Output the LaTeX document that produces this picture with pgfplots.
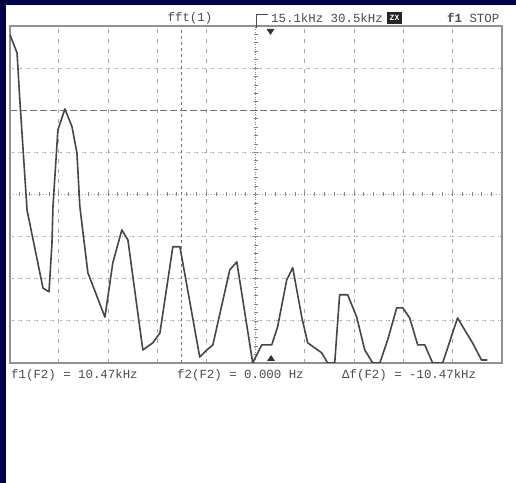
\documentclass[border=0pt]{standalone}
\usepackage{pgfplots}
\pgfplotsset{compat=1.18}
\usepackage{fontspec}
\setmainfont{Liberation Mono}
\definecolor{navy}{RGB}{0,0,68}
\definecolor{trace}{RGB}{70,70,70}
\definecolor{gridc}{RGB}{165,165,165}
\definecolor{framec}{RGB}{145,145,145}
\definecolor{txt}{RGB}{75,75,75}
\newcommand\scr{\fontsize{12.4bp}{14bp}\selectfont}
\begin{document}
\begin{tikzpicture}[x=1bp,y=1bp]
\path[use as bounding box] (0,0) rectangle (516,483);
\fill[white] (0,0) rectangle (516,483);
\fill[navy] (0,478) rectangle (516,483);
\fill[navy] (0,0) rectangle (6,483);
% vertical grid
\foreach \x in {58.7,107.9,157.1,206.3,304.7,353.9,403.1,452.3}
  \draw[gridc, line width=0.8bp, dash pattern=on 4bp off 6bp] (\x,120) -- (\x,457);
% horizontal grid
\foreach \y in {162.1,204.25,246.4,330.6,414.9}
  \draw[gridc, line width=0.8bp, dash pattern=on 1.2bp off 1.6bp on 1.2bp off 4bp] (9.5,\y) -- (501.5,\y);
% center horizontal with ticks
\draw[gridc, line width=0.8bp, dash pattern=on 1bp off 2bp] (9.5,288.5) -- (501.5,288.5);
\foreach \i in {1,...,49}
  \draw[gridc!80!black, line width=0.7bp] ({9.5+\i*9.84},286.5) -- ({9.5+\i*9.84},290.5);
% center vertical with ticks
\draw[gridc!80!black, line width=0.8bp, dash pattern=on 1bp off 1.5bp] (255.5,120) -- (255.5,457);
\foreach \j in {1,...,39}
  \draw[gridc!80!black, line width=0.7bp] (253.5,{120+\j*8.425}) -- (257.5,{120+\j*8.425});
% cursor lines
\draw[gridc!70!black, line width=1.2bp, dash pattern=on 7bp off 3bp] (9.5,372.75) -- (501.5,372.75);
\draw[gridc!70!black, line width=1.2bp, dash pattern=on 3bp off 3bp] (181.2,120) -- (181.2,457);
% frame
\draw[framec, line width=2bp] (9.5,120) rectangle (501.5,457);
% header
\node[txt, anchor=center, inner sep=0pt] at (190,465) {\scr fft(1)};
\draw[txt, line width=0.9bp] (256,455) -- (256,469) -- (268,469);
\node[txt, anchor=west, inner sep=0pt] at (271,465) {\scr 15.1kHz 30.5kHz};
\fill[black!85] (387,459) rectangle (402,471);
\node[white, anchor=center, inner sep=0pt] at (394.5,465) {\fontsize{8bp}{9bp}\selectfont\bfseries ZX};
\node[txt, anchor=west, inner sep=0pt] at (447,465) {\scr\bfseries f1\mdseries{} STOP};
% cursor triangles
\fill[black!80] (266.5,454) -- (274.5,454) -- (270.5,448) -- cycle;
\fill[black!80] (267,122) -- (275,122) -- (271,128) -- cycle;
% footer
\node[txt, anchor=west, inner sep=0pt] at (11,108) {\scr f1(F2) = 10.47kHz};
\node[txt, anchor=west, inner sep=0pt] at (177,108) {\scr f2(F2) = 0.000 Hz};
\node[txt, anchor=west, inner sep=0pt] at (342,108) {\scr Δf(F2) = -10.47kHz};
\begin{axis}[
  at={(9.5bp,120bp)}, anchor=south west,
  scale only axis, width=492bp, height=337bp,
  xmin=0, xmax=30, ymin=0, ymax=8,
  ticks=none, axis line style={draw=none},
  clip=true,
]
\addplot[trace, line width=1.6bp, line join=round] coordinates {
(0.03,7.79) (0.15,7.67) (0.46,7.36) (0.64,6.18) (1.07,3.63) (2.04,1.78) (2.41,1.69)
(2.59,2.85) (2.65,3.71) (2.95,5.53) (3.38,6.03) (3.81,5.61) (4.11,4.99) (4.29,3.71)
(4.78,2.14) (5.82,1.09) (6.30,2.38) (6.85,3.16) (7.22,2.92) (8.13,0.31) (8.74,0.48)
(9.17,0.71) (9.96,2.76) (10.39,2.76) (11.60,0.14) (12.03,0.31) (12.40,0.43) (13.43,2.21)
(13.86,2.40) (14.83,0.00) (15.38,0.43) (15.99,0.43) (16.35,0.86) (16.90,1.97) (17.27,2.26)
(17.82,1.09) (18.18,0.48) (19.04,0.24) (19.40,0.00) (19.83,0.00) (20.13,1.62) (20.62,1.62)
(21.17,1.09) (21.66,0.31) (22.15,0.00) (22.58,0.00) (23.06,0.55) (23.61,1.31) (23.98,1.31)
(24.40,1.07) (24.89,0.43) (25.32,0.43) (25.80,0.00) (26.41,0.00) (27.32,1.07) (27.87,0.71)
(28.23,0.48) (28.78,0.07) (29.14,0.07)
};
\end{axis}
\end{tikzpicture}
\end{document}
